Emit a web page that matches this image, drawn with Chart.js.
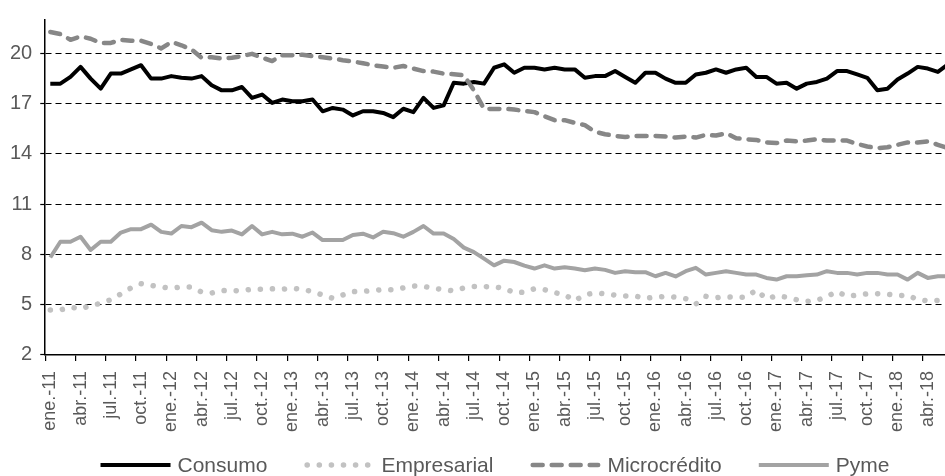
<!DOCTYPE html>
<html>
<head>
<meta charset="utf-8">
<script src="https://cdn.jsdelivr.net/npm/chart.js@4/dist/chart.umd.min.js"></script>
<style>
  html, body { margin: 0; padding: 0; background: #ffffff; overflow: hidden; }
  #wrap { width: 990px; height: 476px; position: relative; }
</style>
</head>
<body>
<div id="wrap"><canvas id="c" width="990" height="476"></canvas></div>
<script>
// ---- data ----
const MONTHS = ['ene.', 'feb.', 'mar.', 'abr.', 'may.', 'jun.', 'jul.', 'ago.', 'sep.', 'oct.', 'nov.', 'dic.'];
const YEARS = ['11', '12', '13', '14', '15', '16', '17', '18'];
const N_MONTHS = 90; // ene.-11 .. jun.-18

const consumo = [
  18.2, 18.2, 18.6, 19.2, 18.5, 17.9, 18.8, 18.8, 19.05, 19.3,
  18.5, 18.5, 18.65, 18.55, 18.5, 18.65, 18.1, 17.8, 17.8, 18.0,
  17.35, 17.55, 17.05, 17.25, 17.15, 17.15, 17.25, 16.55, 16.75, 16.65,
  16.3, 16.55, 16.55, 16.45, 16.2, 16.7, 16.5, 17.35, 16.75, 16.9,
  18.25, 18.2, 18.3, 18.2, 19.15, 19.35, 18.85, 19.15, 19.15, 19.05,
  19.15, 19.05, 19.05, 18.55, 18.65, 18.65, 18.95, 18.6, 18.25, 18.85,
  18.85, 18.5, 18.25, 18.25, 18.75, 18.85, 19.05, 18.85, 19.05, 19.15,
  18.6, 18.6, 18.2, 18.25, 17.9, 18.2, 18.3, 18.5, 18.95, 18.95,
  18.75, 18.55, 17.8, 17.9, 18.45, 18.8, 19.2, 19.1, 18.9, 19.35
];
const empresarial = [
  4.69, 4.69, 4.85, 4.75, 4.95, 5.08, 5.3, 5.65, 6.0, 6.25,
  6.15, 6.05, 6.0, 6.05, 6.05, 5.76, 5.7, 5.85, 5.83, 5.85,
  5.92, 5.92, 5.95, 5.93, 5.98, 5.92, 5.78, 5.58, 5.38, 5.58,
  5.78, 5.8, 5.84, 5.9, 5.9, 6.0, 6.12, 6.1, 5.98, 5.9,
  5.83, 6.0, 6.08, 6.08, 6.07, 5.98, 5.72, 5.75, 5.95, 5.9,
  5.72, 5.6, 5.24, 5.6, 5.7, 5.65, 5.57, 5.52, 5.52, 5.38,
  5.45, 5.5, 5.45, 5.36, 5.04, 5.5, 5.42, 5.47, 5.45, 5.45,
  5.88, 5.35, 5.53, 5.45, 5.3, 5.2, 5.25, 5.5, 5.78, 5.5,
  5.57, 5.65, 5.66, 5.63, 5.54, 5.57, 5.3, 5.24, 5.25, 5.28
];
const microcredito = [
  21.28, 21.16, 20.82, 21.02, 20.88, 20.63, 20.63, 20.82, 20.76, 20.76,
  20.57, 20.3, 20.69, 20.49, 20.24, 19.75, 19.78, 19.7, 19.75, 19.84,
  19.98, 19.75, 19.55, 19.9, 19.9, 19.92, 19.84, 19.77, 19.7, 19.6,
  19.52, 19.42, 19.3, 19.22, 19.15, 19.25, 19.1, 18.95, 18.92, 18.8,
  18.76, 18.7, 17.8, 16.7, 16.68, 16.7, 16.65, 16.57, 16.5, 16.25,
  16.02, 16.02, 15.86, 15.72, 15.33, 15.18, 15.08, 15.02, 15.08, 15.08,
  15.08, 15.04, 14.98, 15.04, 14.98, 15.14, 15.1, 15.24, 14.94, 14.88,
  14.84, 14.69, 14.65, 14.8, 14.75, 14.8, 14.88, 14.8, 14.8, 14.8,
  14.6, 14.45, 14.35, 14.4, 14.55, 14.69, 14.69, 14.75, 14.55, 14.35
];
const pyme = [
  7.82, 8.76, 8.76, 9.06, 8.27, 8.76, 8.76, 9.31, 9.51, 9.51,
  9.78, 9.35, 9.25, 9.7, 9.63, 9.9, 9.45, 9.35, 9.43, 9.2,
  9.7, 9.2, 9.35, 9.2, 9.24, 9.06, 9.31, 8.86, 8.86, 8.86,
  9.16, 9.24, 9.02, 9.35, 9.27, 9.06, 9.35, 9.7, 9.25, 9.25,
  8.92, 8.41, 8.14, 7.75, 7.35, 7.63, 7.55, 7.33, 7.16, 7.35,
  7.16, 7.24, 7.16, 7.06, 7.16, 7.08, 6.9, 7.0, 6.94, 6.94,
  6.7, 6.9, 6.69, 7.0, 7.2, 6.8, 6.9, 7.0, 6.9, 6.8,
  6.8, 6.6, 6.5, 6.7, 6.7, 6.76, 6.8, 7.0, 6.9, 6.9,
  6.8, 6.9, 6.9, 6.8, 6.8, 6.5, 6.9, 6.6, 6.7, 6.7
];
const SERIES_NAMES = ['Consumo', 'Empresarial', 'Microcrédito', 'Pyme'];
const Y_TICKS = [2, 5, 8, 11, 14, 17, 20];
const Y_MIN = 2, Y_MAX = 22;

// ---- categories ----
const categories = [];
YEARS.forEach(y => MONTHS.forEach(m => categories.push(m + '-' + y)));
categories.length = N_MONTHS;

const FONT = "'Liberation Sans', Arial, Helvetica, sans-serif";
const TEXT_COLOR = '#595959';
Chart.defaults.font.family = FONT;
Chart.defaults.color = TEXT_COLOR;

// custom bottom legend (line samples + labels)
const bottomLegend = {
  id: 'bottomLegend',
  afterDraw(chart) {
    const ctx = chart.ctx;
    const lineLen = 70, textGap = 7, itemGap = 37, yMid = 465;
    ctx.save();
    ctx.font = '21px ' + FONT;
    ctx.textBaseline = 'middle';
    ctx.textAlign = 'left';
    const items = chart.data.datasets.map(ds => ({
      text: ds.label, color: ds.borderColor, width: ds.borderWidth,
      dash: ds.borderDash || [], cap: ds.borderCapStyle || 'butt',
      tw: ctx.measureText(ds.label).width
    }));
    let total = 0;
    items.forEach((it, i) => { total += lineLen + textGap + it.tw + (i ? itemGap : 0); });
    let x = chart.width / 2 - total / 2;
    items.forEach(it => {
      ctx.save();
      ctx.strokeStyle = it.color;
      ctx.lineWidth = it.width;
      ctx.setLineDash(it.dash);
      ctx.lineCap = it.cap;
      ctx.beginPath();
      const inset = it.cap === 'round' ? it.width / 2 : 0;
      ctx.moveTo(x + inset, yMid);
      ctx.lineTo(x + lineLen - inset, yMid);
      ctx.stroke();
      ctx.restore();
      ctx.fillStyle = TEXT_COLOR;
      ctx.fillText(it.text, x + lineLen + textGap, yMid + 1);
      x += lineLen + textGap + it.tw + itemGap;
    });
    ctx.restore();
  }
};

const tickEvery3 = c => (c.index % 3 === 0 ? '#000000' : 'rgba(0,0,0,0)');

new Chart(document.getElementById('c'), {
  type: 'line',
  data: {
    labels: categories,
    datasets: [
      { label: SERIES_NAMES[0], data: consumo, borderColor: '#000000', borderWidth: 4,
        borderJoinStyle: 'round', order: 4 },
      { label: SERIES_NAMES[1], data: empresarial, borderColor: '#c2c2c2', borderWidth: 5.5,
        borderDash: [0.1, 12], borderCapStyle: 'round', borderJoinStyle: 'round', order: 3 },
      { label: SERIES_NAMES[2], data: microcredito, borderColor: '#878787', borderWidth: 4.5,
        borderDash: [10, 9], borderCapStyle: 'round', borderJoinStyle: 'round', order: 2 },
      { label: SERIES_NAMES[3], data: pyme, borderColor: '#a3a3a3', borderWidth: 4,
        borderJoinStyle: 'round', order: 1 }
    ]
  },
  options: {
    responsive: false,
    animation: false,
    devicePixelRatio: 1,
    layout: { padding: { left: 2, right: 37, top: 16, bottom: 34 } },
    elements: { point: { radius: 0, hoverRadius: 0 }, line: { tension: 0, fill: false } },
    plugins: { legend: { display: false }, tooltip: { enabled: false }, title: { display: false } },
    scales: {
      x: {
        type: 'category',
        offset: true,
        grid: { offset: true, drawOnChartArea: false, drawTicks: true, tickLength: 6,
                color: tickEvery3, tickColor: tickEvery3, lineWidth: 1.2, tickWidth: 1.2 },
        border: { display: true, color: '#000000', width: 1.5 },
        ticks: {
          autoSkip: false, minRotation: 90, maxRotation: 90, padding: 10,
          color: TEXT_COLOR, font: { size: 18, family: FONT },
          callback: function (val, i) { return i % 3 === 0 ? this.getLabelForValue(val) : ''; }
        }
      },
      y: {
        min: Y_MIN, max: Y_MAX,
        afterBuildTicks: scale => { scale.ticks = Y_TICKS.map(v => ({ value: v })); },
        grid: { color: '#000000', lineWidth: 1, drawTicks: true, tickLength: 5,
                tickColor: '#000000', tickBorderDash: [], tickWidth: 1.2 },
        border: { display: true, color: '#000000', width: 1.5, dash: [6, 4] },
        ticks: { padding: 8, color: TEXT_COLOR, font: { size: 20, family: FONT } }
      }
    }
  },
  plugins: [bottomLegend]
});
</script>
</body>
</html>
